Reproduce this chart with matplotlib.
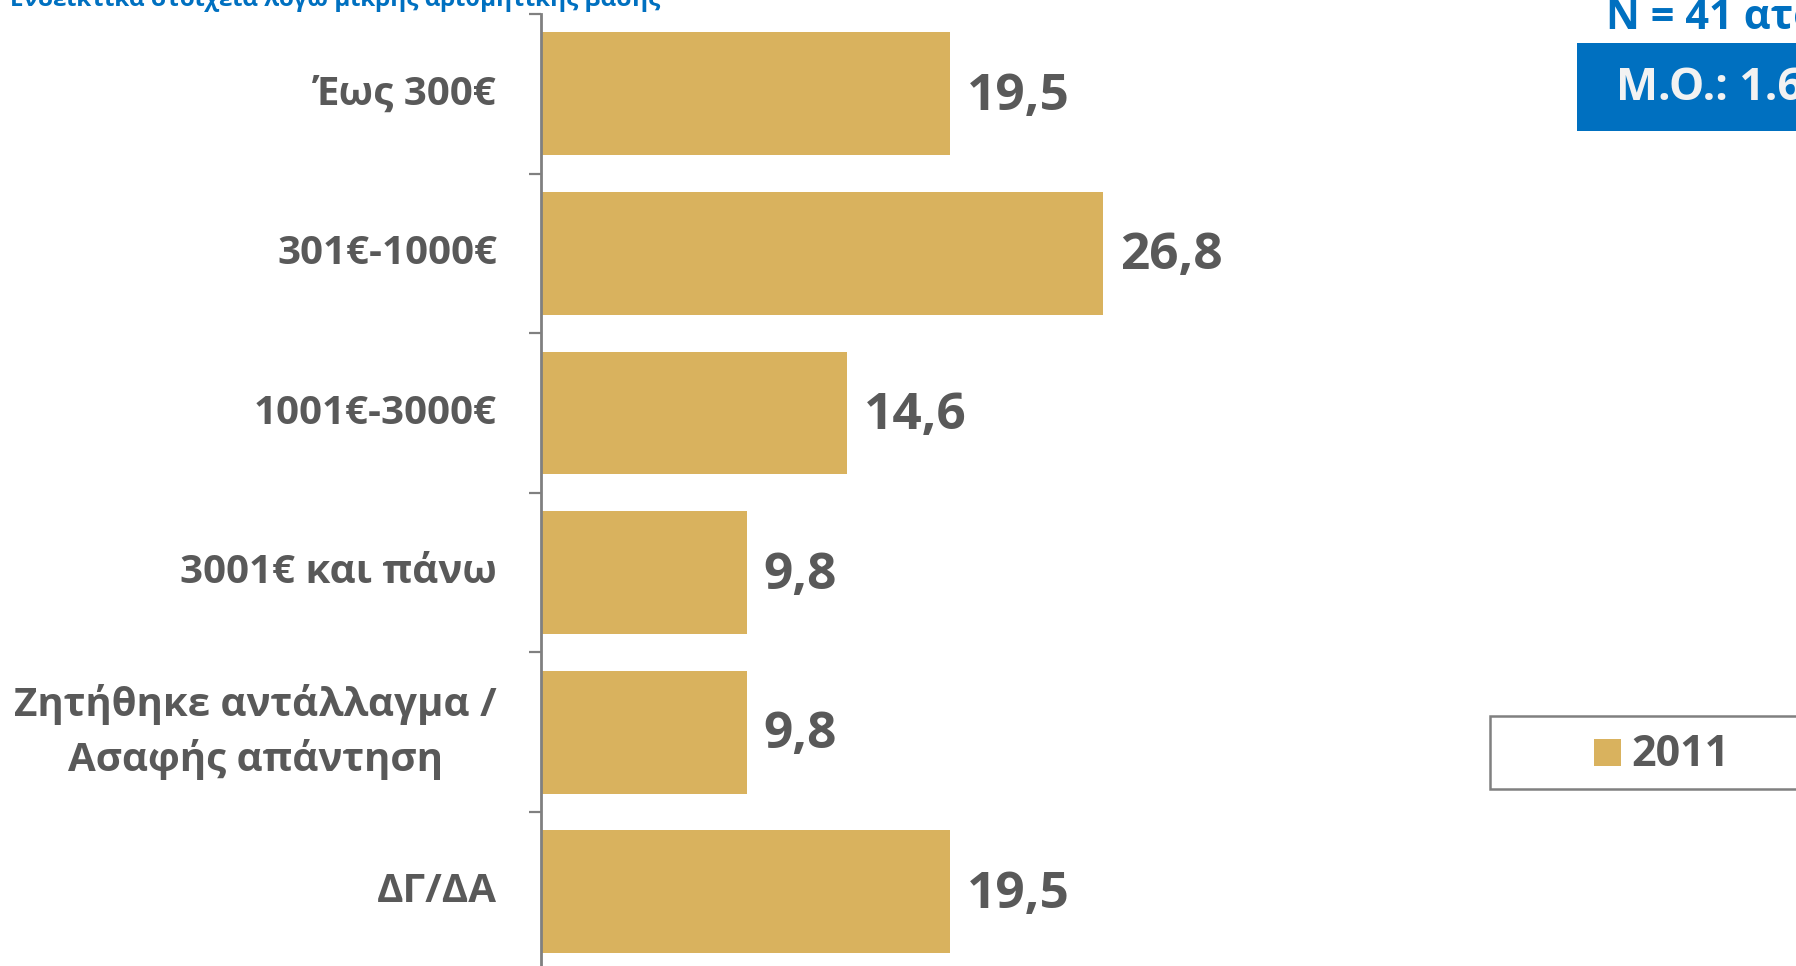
import matplotlib
matplotlib.use("Agg")
import matplotlib.pyplot as plt
from matplotlib.patches import Rectangle

plt.rcParams['font.family'] = ['Open Sans', 'DejaVu Sans']

categories = ["Έως 300€", "301€-1000€", "1001€-3000€", "3001€ και πάνω",
              "Ζητήθηκε αντάλλαγμα /\nΑσαφής απάντηση", "ΔΓ/ΔΑ"]
values = [19.5, 26.8, 14.6, 9.8, 9.8, 19.5]
series_name = "2011"
value_labels = ["19,5", "26,8", "14,6", "9,8", "9,8", "19,5"]

W, H = 1796, 966
bar_color = "#D9B25E"
text_gray = "#595959"
blue = "#0070C0"

fig = plt.figure(figsize=(W / 100, H / 100), dpi=100)

# axes placed in pixel terms
ax_left = 541
px_per_unit = 20.97
slot = 159.6
ax_top = 14
ax_h = slot * 6
ax = fig.add_axes([ax_left / W, (H - ax_top - ax_h) / H, (W - ax_left) / W, ax_h / H])
ax.set_xlim(0, (W - ax_left) / px_per_unit)
ax.set_ylim(5.5, -0.5)

y = list(range(len(categories)))
ax.barh(y, values, height=0.77, color=bar_color)

for yi, v, lab in zip(y, values, value_labels):
    ax.annotate(lab, (v, yi), xytext=(17, -3), textcoords="offset pixels",
                ha="left", va="center", fontsize=37, fontweight="bold", color=text_gray)

for yi, cat in zip(y, categories):
    ax.text(-44 / px_per_unit, yi, cat, ha="right", va="center", multialignment="center",
            fontsize=29, fontweight="bold", color=text_gray, linespacing=1.42)

for s in ["top", "right", "bottom"]:
    ax.spines[s].set_visible(False)
ax.spines["left"].set_color("#808080")
ax.spines["left"].set_linewidth(2)
ax.set_xticks([])
ax.set_yticks([])
ax.set_yticks([i - 0.5 for i in range(7)], minor=True)
ax.tick_params(axis="y", which="minor", length=9, width=1.6, color="#808080", direction="out")
ax.tick_params(axis="y", which="major", length=0)

# header texts (partly cut off by the frame)
fig.text(10 / W, 1 - 6 / H, "Ενδεικτικά στοιχεία λόγω μικρής αριθμητικής βάσης",
         ha="left", va="baseline", fontsize=17.5, fontweight="bold", color=blue)
fig.text(1606 / W, 1 - 29 / H, "N = 41 ατόμων", ha="left", va="baseline",
         fontsize=30, fontweight="bold", color=blue)

# mean box
fig.patches.append(Rectangle((1577 / W, 1 - 131 / H), (W - 1577 + 50) / W, 88 / H,
                             transform=fig.transFigure, facecolor=blue, edgecolor="none"))
fig.text(1616 / W, 1 - 88 / H, "Μ.Ο.: 1.680€", ha="left", va="center",
         fontsize=32, fontweight="bold", color="#F2F2F2")

# legend box
fig.patches.append(Rectangle((1490 / W, 1 - 789 / H), (W - 1490 + 50) / W, 73 / H,
                             transform=fig.transFigure, facecolor="white",
                             edgecolor="#808080", linewidth=1.8))
fig.patches.append(Rectangle((1594 / W, 1 - 766 / H), 27 / W, 27 / H,
                             transform=fig.transFigure, facecolor=bar_color, edgecolor="none"))
fig.text(1631 / W, 1 - 754 / H, series_name, ha="left", va="center",
         fontsize=31, fontweight="bold", color=text_gray)

fig.savefig("out.png", dpi=100)
